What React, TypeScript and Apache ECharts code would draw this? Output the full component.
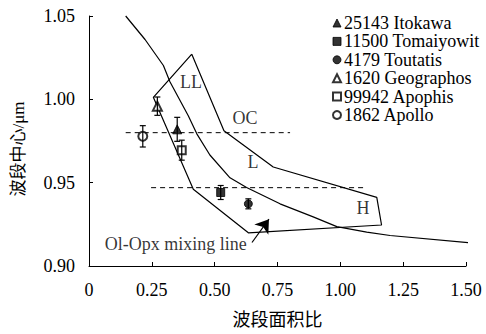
import React, { useEffect, useRef } from "react";
import * as echarts from "echarts";

// Axis ticks
const xTickStep = 0.25;
const yTickStep = 0.05;

// Asteroids (band area ratio, band centre, error)
const asteroidNames = [
  "25143 Itokawa",
  "11500 Tomaiyowit",
  "4179 Toutatis",
  "1620 Geographos",
  "99942 Apophis",
  "1862 Apollo",
];
const asteroidSymbols = ["triangle", "rect", "circle", "emptyTriangle", "emptyRect", "emptyCircle"];
const asteroidSizes = [9, 8, 8, 9, 8, 9];
const bandAreaRatio = [0.351, 0.524, 0.634, 0.272, 0.369, 0.214];
const bandCenter = [0.982, 0.9441, 0.9373, 0.9959, 0.9695, 0.9778];
const bandCenterErr = [0.0072, 0.0042, 0.003, 0.0055, 0.006, 0.0064];

// Ol-Opx mixing line
const mixingLine: number[][] = [
  [0.146, 1.05],
  [0.223, 1.0359],
  [0.296, 1.0203],
  [0.322, 1.0106],
  [0.395, 0.9901],
  [0.429, 0.9793],
  [0.481, 0.9666],
  [0.561, 0.9529],
  [0.627, 0.9471],
  [0.76, 0.9373],
  [0.892, 0.9295],
  [0.986, 0.9236],
  [1.105, 0.9203],
  [1.198, 0.9183],
  [1.515, 0.9139],
];

// Ordinary chondrite region outline (LL / L / H)
const regionOutline: number[][] = [
  [0.409, 1.0271],
  [0.537, 0.9812],
  [0.733, 0.9594],
  [1.145, 0.9412],
  [1.164, 0.9246],
  [0.634, 0.9199],
  [0.415, 0.9461],
  [0.256, 1.0012],
  [0.409, 1.0271],
];

const upperDashed: number[][] = [
  [0.146, 0.98],
  [0.8, 0.98],
];
const lowerDashed: number[][] = [
  [0.247, 0.947],
  [1.091, 0.947],
];

const regionLabels = ["LL", "OC", "L", "H", "Ol-Opx mixing line"];
const regionLabelPos: number[][] = [
  [0.406, 1.0107],
  [0.621, 0.989],
  [0.653, 0.9627],
  [1.09, 0.935],
  [0.345, 0.9135],
];

const arrowStart = [0.6485, 0.9141];
const arrowEnd = [0.716, 0.9281];

const xAxisTitle = "波段面积比";
const yAxisTitle = "波段中心/μm";

const serif = "'Liberation Serif', 'Times New Roman', serif";
const cjk = "'Liberation Serif', 'Noto Sans CJK SC', serif";

export default function App() {
  const ref = useRef<HTMLDivElement>(null);
  useEffect(() => {
    if (!ref.current) return;
    const chart = echarts.init(ref.current, undefined, { renderer: "svg" });
    const lineStyle = { color: "#000", width: 1.2 };

    const scatterSeries = asteroidNames.map((name, i) => ({
      name,
      type: "scatter",
      symbol: asteroidSymbols[i],
      symbolSize: asteroidSizes[i],
      itemStyle: { color: "#000", borderColor: "#000", borderWidth: 1 },
      data: [[bandAreaRatio[i], bandCenter[i]]],
      z: 5,
    }));

    const option: any = {
      animation: false,
      backgroundColor: "#fff",
      grid: { left: 89, right: 20, top: 16, bottom: 62, containLabel: false },
      graphic: [
        {
          type: "text",
          x: 18,
          y: 149,
          rotation: Math.PI / 2,
          style: {
            text: yAxisTitle,
            fontSize: 17,
            fill: "#000",
            fontFamily: cjk,
            align: "center",
            verticalAlign: "middle",
          },
        },
      ],
      legend: {
        orient: "vertical",
        left: 332,
        top: 14,
        itemWidth: 8,
        itemHeight: 8,
        itemGap: 0.4,
        padding: 0,
        selectedMode: false,
        textStyle: {
          fontSize: 18,
          lineHeight: 17,
          color: "#000",
          fontFamily: serif,
          padding: [0, 0, 0, -2],
        },
        data: asteroidNames.map((n, i) => ({ name: n, icon: asteroidSymbols[i] })),
        itemStyle: { color: "#000", borderColor: "#000", borderWidth: 1 },
      },
      xAxis: {
        type: "value",
        min: 0,
        max: 1.5,
        interval: xTickStep,
        name: xAxisTitle,
        nameLocation: "middle",
        nameGap: 45,
        nameTextStyle: { fontSize: 18, color: "#000", fontFamily: cjk },
        axisLine: { lineStyle: { color: "#000", width: 1 } },
        axisTick: { inside: true, length: 4, lineStyle: { color: "#000" } },
        axisLabel: {
          margin: 15,
          fontSize: 18,
          color: "#000",
          fontFamily: serif,
          formatter: (v: number) => (v === 0 ? "0" : v.toFixed(2)),
        },
        splitLine: { show: false },
      },
      yAxis: {
        type: "value",
        min: 0.9,
        max: 1.05,
        interval: yTickStep,
        axisLine: { show: true, lineStyle: { color: "#000", width: 1 } },
        axisTick: { show: true, inside: true, length: 4, lineStyle: { color: "#000" } },
        axisLabel: {
          margin: 14,
          fontSize: 18,
          color: "#000",
          fontFamily: serif,
          formatter: (v: number) => v.toFixed(2),
        },
        splitLine: { show: false },
      },
      series: [
        {
          type: "line",
          data: mixingLine,
          symbol: "none",
          clip: false,
          lineStyle,
          silent: true,
        },
        {
          type: "line",
          data: regionOutline,
          symbol: "none",
          lineStyle,
          silent: true,
        },
        {
          type: "line",
          data: upperDashed,
          symbol: "none",
          lineStyle: { color: "#000", width: 1, type: [5, 4] },
          silent: true,
        },
        {
          type: "line",
          data: lowerDashed,
          symbol: "none",
          lineStyle: { color: "#000", width: 1, type: [5, 4] },
          silent: true,
        },
        {
          type: "lines",
          coordinateSystem: "cartesian2d",
          symbol: ["none", "arrow"],
          symbolSize: [10, 13],
          lineStyle: { color: "#000", width: 1.2, opacity: 1 },
          itemStyle: { color: "#000", opacity: 1 },
          data: [{ coords: [arrowStart, arrowEnd] }],
          silent: true,
        },
        {
          type: "scatter",
          symbolSize: 0,
          silent: true,
          data: regionLabels.map((n, i) => ({ name: n, value: regionLabelPos[i] })),
          label: {
            show: true,
            position: "inside",
            formatter: "{b}",
            fontSize: 18,
            color: "#000",
            fontFamily: serif,
          },
        },
        ...scatterSeries,
        {
          type: "custom",
          z: 6,
          silent: true,
          data: bandAreaRatio.map((x, i) => [x, bandCenter[i] - bandCenterErr[i], bandCenter[i] + bandCenterErr[i]]),
          renderItem: (params: any, api: any) => {
            const x = api.value(0);
            const lo = api.coord([x, api.value(1)]);
            const hi = api.coord([x, api.value(2)]);
            const w = 3;
            const style = { stroke: "#000", lineWidth: 1.2 };
            return {
              type: "group",
              children: [
                { type: "line", shape: { x1: lo[0], y1: lo[1], x2: hi[0], y2: hi[1] }, style },
                { type: "line", shape: { x1: lo[0] - w, y1: lo[1], x2: lo[0] + w, y2: lo[1] }, style },
                { type: "line", shape: { x1: hi[0] - w, y1: hi[1], x2: hi[0] + w, y2: hi[1] }, style },
              ],
            };
          },
        },
      ],
    };
    chart.setOption(option);
    return () => chart.dispose();
  }, []);
  return (
    <div
      ref={ref}
      style={{ position: "fixed", left: 0, top: 0, width: 486, height: 334, overflow: "hidden" }}
    />
  );
}
